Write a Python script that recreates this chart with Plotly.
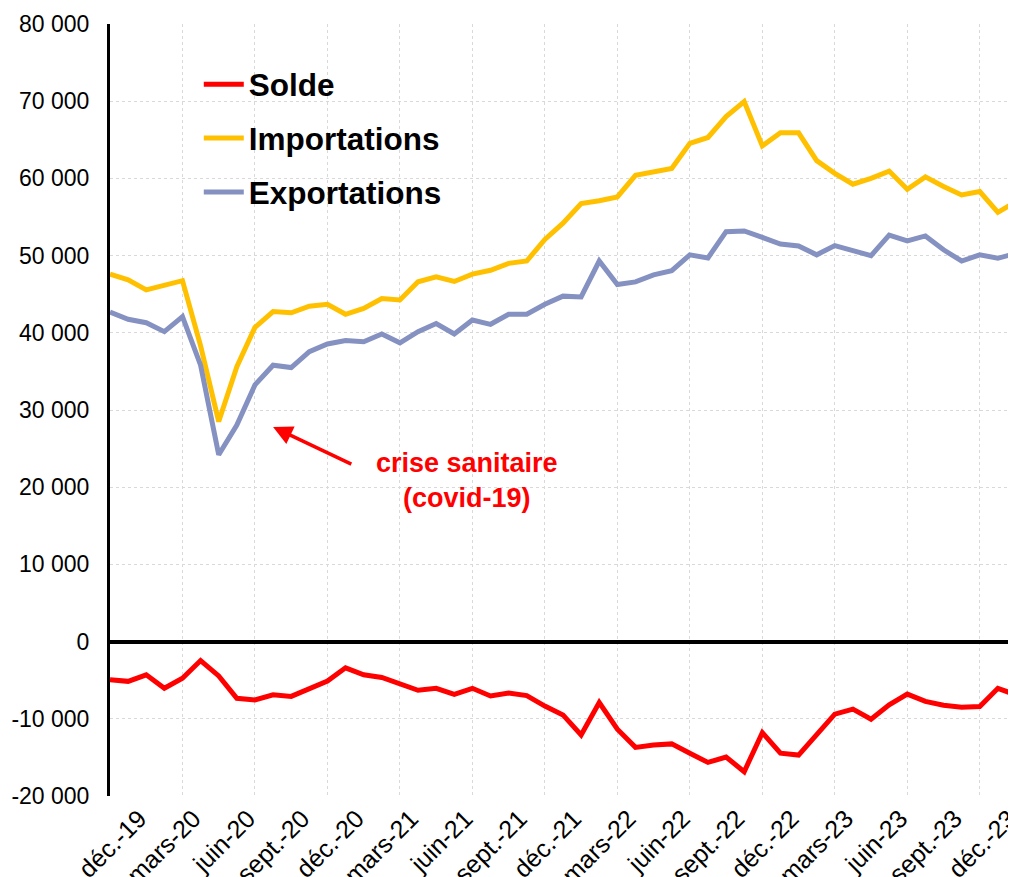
import plotly.graph_objects as go

months = [
    "oct.-19", "nov.-19", "déc.-19",
    "janv.-20", "févr.-20", "mars-20", "avr.-20", "mai-20", "juin-20", "juil.-20", "août-20", "sept.-20", "oct.-20", "nov.-20", "déc.-20",
    "janv.-21", "févr.-21", "mars-21", "avr.-21", "mai-21", "juin-21", "juil.-21", "août-21", "sept.-21", "oct.-21", "nov.-21", "déc.-21",
    "janv.-22", "févr.-22", "mars-22", "avr.-22", "mai-22", "juin-22", "juil.-22", "août-22", "sept.-22", "oct.-22", "nov.-22", "déc.-22",
    "janv.-23", "févr.-23", "mars-23", "avr.-23", "mai-23", "juin-23", "juil.-23", "août-23", "sept.-23", "oct.-23", "nov.-23", "déc.-23",
]

importations = [
    47600, 46850, 45550, 46200, 46750, 38300, 28500, 35600, 40700, 42750,
    42600, 43450, 43700, 42400, 43150, 44450, 44250, 46600, 47250, 46650,
    47600, 48100, 49000, 49300, 52100, 54200, 56750, 57100, 57600, 60400,
    60850, 61300, 64550, 65300, 68000, 69950, 64200, 65900, 65900, 62300,
    60650, 59250, 60000, 60950, 58600, 60200, 58950, 57850, 58300, 55600,
    57000,
]

exportations = [
    42700, 41750, 41300, 40150, 42100, 35800, 24200, 28050, 33250, 35800,
    35500, 37550, 38550, 39000, 38850, 39850, 38700, 40150, 41200, 39850,
    41650, 41100, 42400, 42400, 43700, 44750, 44650, 49300, 46250, 46600,
    47500, 48050, 50100, 49700, 53100, 53200, 52350, 51500, 51250, 50100,
    51300, 50650, 50000, 52650, 51900, 52550, 50750, 49300, 50100, 49650,
    50300,
]

solde = [
    -4950, -5150, -4300, -6050, -4750, -2450, -4450, -7350, -7550, -6900,
    -7100, -6050, -5100, -3400, -4300, -4650, -5400, -6300, -6050, -6850,
    -6050, -7050, -6650, -7000, -8350, -9500, -12100, -7900, -11350, -13700,
    -13400, -13250, -14450, -15650, -14950, -16850, -11800, -14450, -14700, -12100,
    -9400, -8750, -10050, -8200, -6800, -7750, -8250, -8500, -8400, -6050,
    -6900,
]

y_tick_values = [-20000, -10000, 0, 10000, 20000, 30000, 40000, 50000, 60000, 70000, 80000]
y_tick_labels = ["-20 000", "-10 000", "0", "10 000", "20 000", "30 000", "40 000",
                 "50 000", "60 000", "70 000", "80 000"]

x_label_months = ["déc.-19", "mars-20", "juin-20", "sept.-20", "déc.-20", "mars-21", "juin-21",
                  "sept.-21", "déc.-21", "mars-22", "juin-22", "sept.-22", "déc.-22", "mars-23",
                  "juin-23", "sept.-23", "déc.-23"]

x = list(range(len(months)))
x_tick_vals = [months.index(m) for m in x_label_months]

FONT = "Liberation Sans, Arial, sans-serif"

fig = go.Figure()
fig.add_trace(go.Scatter(x=x, y=solde, name="Solde", mode="lines",
                         line=dict(color="#FF0000", width=5), legendgroup="a",
                         customdata=months, hovertemplate="%{customdata}: %{y}<extra>Solde</extra>"))
fig.add_trace(go.Scatter(x=x, y=importations, name="Importations", mode="lines",
                         line=dict(color="#FFC000", width=5), legendgroup="b",
                         customdata=months, hovertemplate="%{customdata}: %{y}<extra>Importations</extra>"))
fig.add_trace(go.Scatter(x=x, y=exportations, name="Exportations", mode="lines",
                         line=dict(color="#8491C1", width=5), legendgroup="c",
                         customdata=months, hovertemplate="%{customdata}: %{y}<extra>Exportations</extra>"))

# arrow
fig.add_annotation(x=9.0, y=27800, ax=13.4, ay=22900, xref="x", yref="y",
                   axref="x", ayref="y", text="", showarrow=True,
                   arrowhead=2, arrowsize=1.1, arrowwidth=3.5, arrowcolor="#FF0000")
# text
fig.add_annotation(x=19.7, y=20900, xref="x", yref="y", text="crise sanitaire<br>(covid-19)",
                   showarrow=False, align="center",
                   font=dict(family=FONT, size=27, color="#FF0000", weight="bold"))

# the page body has an 8px margin: figure is sized/margined so the plot area lands where the reference has it
fig.update_layout(
    width=1008, height=869,
    margin=dict(l=102, r=0, t=16, b=81),
    paper_bgcolor="white", plot_bgcolor="white",
    font=dict(family=FONT, color="black"),
    showlegend=True,
    legend=dict(x=0.098, y=0.957, xanchor="left", yanchor="top",
                bgcolor="rgba(0,0,0,0)", tracegroupgap=10,
                font=dict(family=FONT, size=31.5, color="black", weight="bold"),
                itemwidth=40),
    xaxis=dict(range=[0, 50], tickmode="array", tickvals=x_tick_vals, ticktext=x_label_months,
               tickangle=-45, tickfont=dict(family=FONT, size=25, color="black"),
               ticks="", automargin=False, ticklabeloverflow="allow",
               ticklabelshift=-7, ticklabelstandoff=2,
               showgrid=False, zeroline=False, showline=False,
               minor=dict(tick0=0, dtick=4, showgrid=True, gridcolor="#d9d9d9",
                          griddash="dot", gridwidth=1, ticks="")),
    yaxis=dict(range=[-20000, 80000], tickmode="array", tickvals=y_tick_values, ticktext=y_tick_labels,
               tickfont=dict(family=FONT, size=23, color="black"), automargin=False,
               ticks="outside", ticklen=13, tickcolor="rgba(0,0,0,0)",
               showgrid=True, gridcolor="#d9d9d9", griddash="dot", gridwidth=1,
               zeroline=True, zerolinecolor="black", zerolinewidth=4,
               showline=True, linecolor="black", linewidth=3),
)

fig.write_html("out.html")
